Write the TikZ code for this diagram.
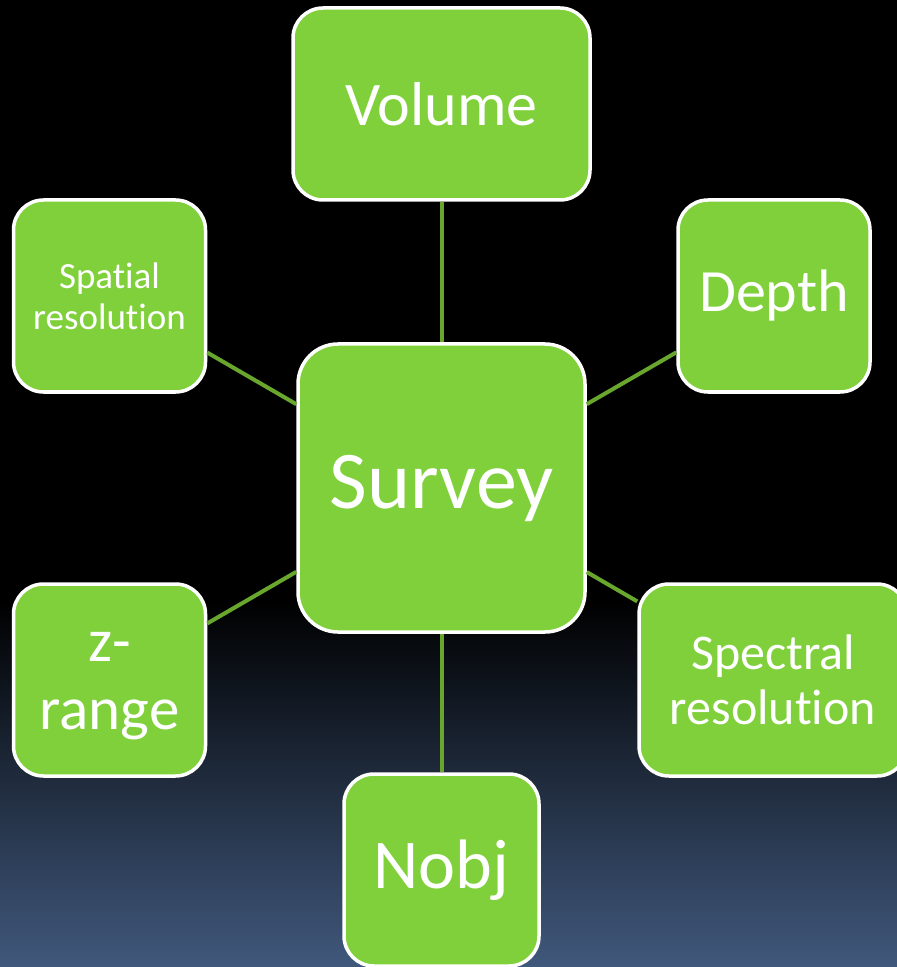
\documentclass[tikz,border=0pt]{standalone}
\usepackage{fontspec}
\setmainfont{Carlito}[Ligatures=NoCommon]
\usepackage{tikz}
\definecolor{G}{RGB}{128, 208, 60}
\definecolor{L}{RGB}{104, 166, 46}
\definecolor{B}{RGB}{64, 88, 124}
\tikzset{
  caja/.style={draw=white, line width=1.75pt, fill=G, rounded corners=15pt,
    text=white, align=center, inner sep=0pt, minimum width=96pt, minimum height=96pt},
  rama/.style={draw=L, line width=2pt}
}

\begin{document}
\begin{tikzpicture}[x=0.5pt, y=-0.5pt]
   	%Fondo negro con degradado abajo
   	\useasboundingbox (0,0) rectangle (897,967);
   	\fill[black] (0,0) rectangle (897,967);
   	\shade[top color=black, bottom color=B] (0,600) rectangle (897,967);

	\begin{scope}
		\clip (0,0) rectangle (897,967);
	%Nodo central
   	\node[caja, minimum width=143.5pt, minimum height=144pt, rounded corners=20pt,
   		font=\fontsize{41}{45}\selectfont] (survey) at (441.5,488) {Survey};

	%Nodos de arriba
   	\node[caja, minimum width=148.5pt, font=\fontsize{31}{34}\selectfont] (volume) at (441.5,104) {Volume};
   	\node[caja, font=\fontsize{18.5}{20.5}\selectfont] (spatial) at (109.5,296) {Spat\kern0pt ial\\resolut\kern0pt ion};
   	\node[caja, font=\fontsize{30}{33}\selectfont] (depth) at (774,296) {Depth};

	%Nodos de abajo
   	\node[caja, font=\fontsize{30.5}{34}\selectfont] (zrange) at (109.5,680) {\rule{0pt}{21pt}z-\\range};
   	\node[caja, minimum width=134pt, font=\fontsize{25}{27.5}\selectfont] (spectral) at (773,680) {Spectral\\resolut\kern0pt ion};
   	\node[caja, minimum width=97.5pt, font=\fontsize{35}{38}\selectfont] (nobj) at (441.5,870) {Nobj};

	% Lineas
   	\draw[rama] (volume) -- (survey);
   	\draw[rama] (spatial) -- (survey);
   	\draw[rama] (depth) -- (survey);
   	\draw[rama] (zrange) -- (survey);
   	\draw[rama] (spectral) -- (survey);
   	\draw[rama] (nobj) -- (survey);
	\end{scope}
 \end{tikzpicture}
\end{document}
